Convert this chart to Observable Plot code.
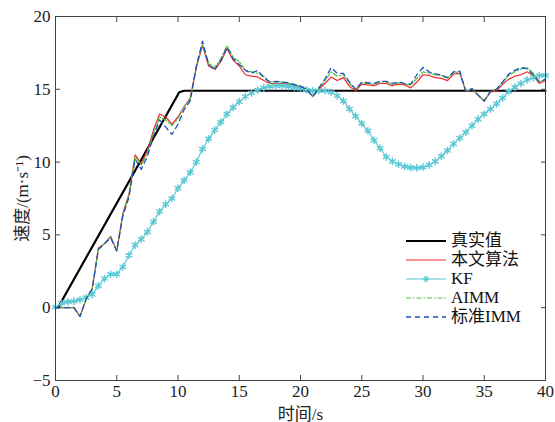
<!DOCTYPE html>
<html><head><meta charset="utf-8">
<script src="https://cdn.jsdelivr.net/npm/d3@7"></script>
<script src="https://cdn.jsdelivr.net/npm/@observablehq/plot@0.6"></script>
<style>
body{margin:0;background:#fff;}
#wrap{position:relative;width:555px;height:422px;font-family:'Liberation Serif','Noto Sans CJK SC',serif;}
#wrap svg text{font-family:'Liberation Serif','Noto Sans CJK SC',serif !important;}
#legend{position:absolute;left:406px;top:231px;font-size:17px;line-height:19px;color:#111;}
#legend div{display:flex;align-items:center;height:19px;}
#legend svg{margin-right:5px;}
</style></head><body><div id="wrap"></div>
<script>
// time grid (s)
const times = [0,0.5,1,1.5,2,2.5,3,3.5,4,4.5,5,5.5,6,6.5,7,7.5,8,8.5,9,9.5,10,10.5,11,11.5,12,12.5,13,13.5,14,14.5,15,15.5,16,16.5,17,17.5,18,18.5,19,19.5,20,20.5,21,21.5,22,22.5,23,23.5,24,24.5,25,25.5,26,26.5,27,27.5,28,28.5,29,29.5,30,30.5,31,31.5,32,32.5,33,33.5,34,34.5,35,35.5,36,36.5,37,37.5,38,38.5,39,39.5,40];
// true speed key points
const trueT = [0.2, 10.1, 10.5, 40];
const trueV = [0, 14.8, 14.9, 14.9];
const proposed = [0,0,0,0,-0.6,0.6,1.3,4.1,4.4,4.9,3.9,6.5,7.8,10.5,9.9,10.8,12.2,13.3,13.1,12.6,13.1,13.8,14.4,16.5,18.0,16.6,16.4,16.9,17.8,17.0,16.6,16.0,15.9,15.85,15.6,15.4,15.4,15.4,15.35,15.3,15.15,15.0,14.5,15.0,15.4,15.85,15.6,15.8,15.2,14.9,15.35,15.3,15.25,15.4,15.4,15.25,15.35,15.3,15.1,15.5,16.0,15.95,15.8,15.75,15.6,16.05,16.1,14.85,15.0,14.6,14.2,14.8,14.9,15.35,15.7,15.9,16.0,16.2,15.95,15.4,15.6];
const kf = [0.05,0.3,0.4,0.45,0.55,0.7,0.9,1.5,2.0,2.3,2.3,2.8,3.6,4.3,4.7,5.2,5.9,6.6,7.1,7.5,8.2,8.75,9.3,10.0,10.9,11.6,12.2,12.75,13.3,13.75,14.15,14.5,14.75,14.95,15.1,15.2,15.25,15.25,15.2,15.15,15.05,14.95,14.9,14.9,14.9,14.8,14.55,14.2,13.65,13.15,12.65,12.15,11.5,10.95,10.35,10.05,9.85,9.7,9.62,9.6,9.65,9.8,10.05,10.4,10.8,11.25,11.65,12.05,12.5,12.95,13.3,13.65,14.0,14.4,14.85,15.15,15.4,15.65,15.8,15.95,15.95];
const aimm = [0,0,0,0,-0.6,0.6,1.3,4.0,4.4,4.85,3.9,6.4,7.7,10.4,9.8,10.6,12.0,13.1,12.9,12.5,13.0,13.8,14.3,16.6,18.1,16.8,16.5,17.1,18.0,17.2,16.9,16.3,16.2,16.1,15.9,15.5,15.5,15.5,15.4,15.35,15.2,15.05,14.5,15.05,15.6,16.2,15.9,16.0,15.4,15.0,15.45,15.4,15.35,15.5,15.5,15.35,15.45,15.35,15.3,15.75,16.2,16.1,16.0,15.95,15.75,16.15,16.2,14.85,15.05,14.6,14.2,14.85,15.0,15.5,15.95,16.2,16.4,16.5,16.1,15.5,15.7];
const stdImm = [0,0,0,0,-0.6,0.6,1.3,4.0,4.4,4.8,3.9,6.3,7.6,10.2,9.5,10.4,11.8,12.9,12.4,11.9,12.6,13.6,14.2,16.6,18.3,16.7,16.3,17.0,17.9,17.1,16.7,16.3,16.1,16.3,15.8,15.5,15.55,15.5,15.45,15.3,15.2,15.0,14.5,15.1,15.7,16.5,16.1,16.1,15.5,15.0,15.5,15.45,15.4,15.55,15.55,15.4,15.5,15.4,15.35,16.0,16.5,16.2,16.05,16.0,15.8,16.2,16.25,14.85,15.05,14.6,14.2,14.85,15.0,15.5,16.05,16.3,16.5,16.4,16.0,15.5,15.7];
const xTicks = [0,5,10,15,20,25,30,35,40];
const yTicks = [-5,0,5,10,15,20];
const seriesNames = ["真实值","本文算法","KF","AIMM","标准IMM"];
const colors = {true:"#000000", proposed:"#f02a2a", kf:"#5ac8d4", aimm:"#4cbf3a", std:"#1f4fbf"};

const trueData = trueT.map((t,i)=>({t, v:trueV[i]}));
const mk = arr => times.map((t,i)=>({t, v:arr[i]}));
const blank = () => "";

const chart = Plot.plot({
  width: 555, height: 422,
  marginLeft: 55, marginRight: 10, marginTop: 16, marginBottom: 42,
  x: {domain:[0,40]},
  y: {domain:[-5,20]},
  style: {fontFamily:"'Liberation Serif','Noto Sans CJK SC',serif", fontSize:"16px", color:"#222", background:"white"},
  marks: [
    Plot.line(trueData, {x:"t", y:"v", stroke:colors.true, strokeWidth:2.2}),
    Plot.line(mk(proposed), {x:"t", y:"v", stroke:colors.proposed, strokeWidth:1.2}),
    Plot.line(mk(kf), {x:"t", y:"v", stroke:colors.kf, strokeWidth:1.2}),
    Plot.dot(mk(kf), {x:"t", y:"v", symbol:"asterisk", r:3.6, stroke:colors.kf, strokeWidth:1.4}),
    Plot.line(mk(aimm), {x:"t", y:"v", stroke:colors.aimm, strokeWidth:1.2, strokeDasharray:"5,2,1.5,2"}),
    Plot.line(mk(stdImm), {x:"t", y:"v", stroke:colors.std, strokeWidth:1.3, strokeDasharray:"5,4"}),
    Plot.frame({stroke:"#444", strokeWidth:1}),
    Plot.axisX({ticks:xTicks, tickSize:-5, tickFormat:blank, label:null, stroke:"#444"}),
    Plot.axisX({ticks:xTicks, anchor:"top", tickSize:-5, tickFormat:blank, label:null, stroke:"#444"}),
    Plot.axisY({ticks:yTicks, tickSize:-5, tickFormat:blank, label:null, stroke:"#444"}),
    Plot.axisY({ticks:yTicks, anchor:"right", tickSize:-5, tickFormat:blank, label:null, stroke:"#444"}),
    Plot.axisX({ticks:xTicks, tickSize:0, tickPadding:4, fill:"#222", label:"时间/s", labelAnchor:"center", labelArrow:false, labelOffset:39, fontSize:17}),
    Plot.axisY({ticks:yTicks, tickSize:0, tickPadding:5, fill:"#222", label:"速度/(m·s⁻¹)", labelAnchor:"center", labelArrow:false, labelOffset:40, fontSize:17})
  ]
});
const wrap = document.getElementById("wrap");
wrap.appendChild(chart);

// legend overlay
const leg = document.createElement("div");
leg.id = "legend";
const styles = [
  {c:colors.true, w:2.2, d:null, m:false},
  {c:colors.proposed, w:1.2, d:null, m:false},
  {c:colors.kf, w:1.2, d:null, m:true},
  {c:colors.aimm, w:1.2, d:"5,2,1.5,2", m:false},
  {c:colors.std, w:1.3, d:"5,4", m:false}
];
seriesNames.forEach((name,i)=>{
  const s = styles[i];
  const row = document.createElement("div");
  let svg = `<svg width="40" height="10"><line x1="0" y1="5" x2="40" y2="5" stroke="${s.c}" stroke-width="${s.w}" ${s.d?`stroke-dasharray="${s.d}"`:""}/>`;
  if (s.m) svg += `<g transform="translate(20,5)" stroke="${s.c}" stroke-width="1.3"><line x1="-3.5" y1="0" x2="3.5" y2="0"/><line x1="-1.75" y1="-3" x2="1.75" y2="3"/><line x1="-1.75" y1="3" x2="1.75" y2="-3"/></g>`;
  svg += `</svg>`;
  row.innerHTML = svg + `<span>${name}</span>`;
  leg.appendChild(row);
});
wrap.appendChild(leg);
</script></body></html>
